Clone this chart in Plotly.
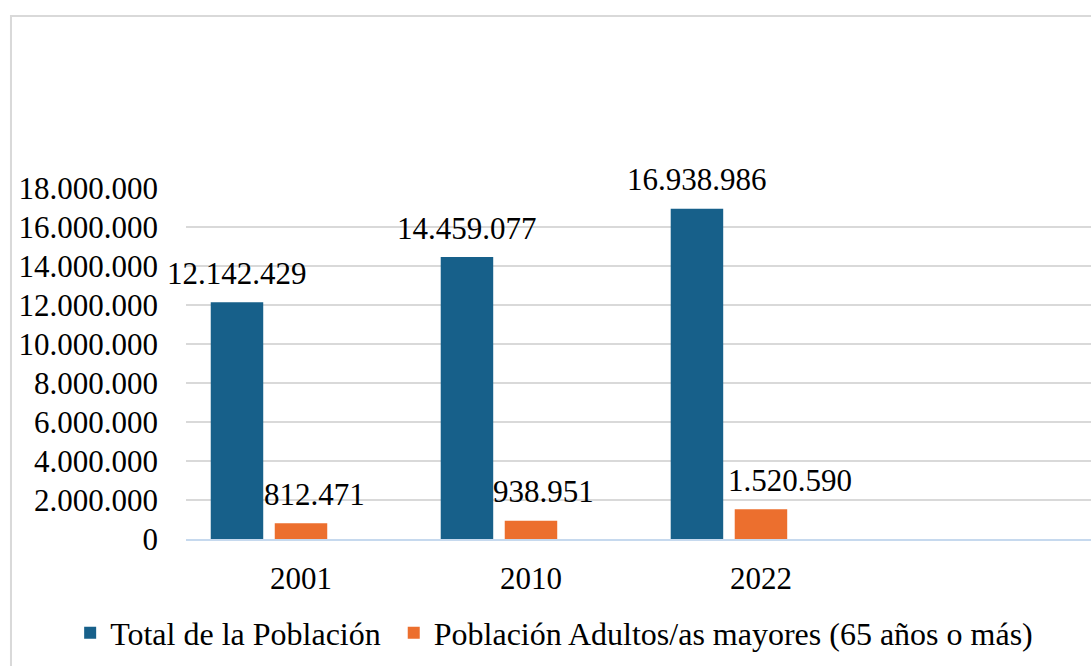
import plotly.graph_objects as go

years = ["2001", "2010", "2022"]
total_pop = [12142429, 14459077, 16938986]
adult_pop = [812471, 938951, 1520590]
series_names = ["Total de la Población", "Población Adultos/as mayores (65 años o más)"]
y_ticks = [0, 2000000, 4000000, 6000000, 8000000, 10000000, 12000000, 14000000, 16000000, 18000000]

FONT = "Liberation Serif, Times New Roman, serif"
FS = 31
BLUE = "#17608a"
ORANGE = "#ec6f2e"

def fmt(v):
    return f"{v:,}".replace(",", ".")

fig = go.Figure()
fig.add_trace(go.Bar(x=years, y=total_pop, name=series_names[0] + "\u00a0", marker_color=BLUE,
                     marker_line_width=0))
fig.add_trace(go.Bar(x=years, y=adult_pop, name=series_names[1], marker_color=ORANGE,
                     marker_line_width=0))
# empty third slot of the original grouped layout
fig.add_trace(go.Bar(x=years, y=[None, None, None], showlegend=False, hoverinfo="skip"))

annotations = []
blue_shift = -63.5
orange_nudge = [14, 13, 29]
for i in range(len(years)):
    annotations.append(dict(x=i, y=total_pop[i], xref="x", yref="y", text=fmt(total_pop[i]),
                            showarrow=False, xshift=blue_shift, yshift=29, yanchor="middle",
                            font=dict(family=FONT, size=FS, color="#000")))
    annotations.append(dict(x=i, y=adult_pop[i], xref="x", yref="y", text=fmt(adult_pop[i]),
                            showarrow=False, xshift=orange_nudge[i], yshift=29, yanchor="middle",
                            font=dict(family=FONT, size=FS, color="#000")))

fig.update_layout(
    width=1091, height=666,
    autosize=False,
    margin=dict(l=186, r=0, t=188, b=127, autoexpand=False),
    paper_bgcolor="white", plot_bgcolor="white",
    separators=",.",
    barmode="group", bargap=0.165, bargroupgap=0.18,
    font=dict(family=FONT, size=FS, color="#000"),
    annotations=annotations,
    showlegend=True,
    legend=dict(orientation="h", x=-0.128, xanchor="left", y=-0.268, yanchor="middle",
                font=dict(family=FONT, size=32, color="#000"), itemclick=False,
                traceorder="normal", bgcolor="rgba(0,0,0,0)"),
    xaxis=dict(type="category", range=[-0.5, 3.435], showgrid=False,
               showline=True, linecolor="#c6d9ee", linewidth=2,
               ticks="", ticklabelstandoff=11, tickfont=dict(family=FONT, size=FS)),
    yaxis=dict(range=[0, 18000000], tickvals=y_ticks, tickformat=",d",
               showgrid=True, gridcolor="#d9d9d9", gridwidth=2,
               zeroline=False, showline=False, ticks="", ticklabelstandoff=27,
               tickfont=dict(family=FONT, size=FS)),
    shapes=[dict(type="rect", xref="paper", yref="paper",
                 x0=-0.1934, x1=1.05, y0=-0.5, y1=1.490,
                 line=dict(color="#d9d9d9", width=2), fillcolor="rgba(0,0,0,0)", layer="below")],
)
fig.update_traces(cliponaxis=False)

fig.write_html("out.html", config={"displayModeBar": False},
               post_script="document.body.style.margin='0';document.body.style.overflow='hidden';")
